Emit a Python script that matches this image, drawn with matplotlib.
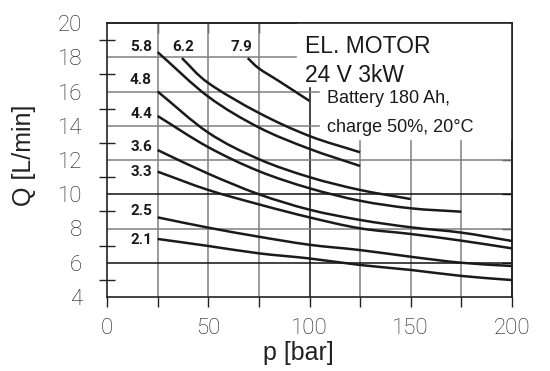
"""Flow vs pressure curves of the 24 V pump motor."""
import matplotlib
matplotlib.use('Agg')
import numpy as np
import matplotlib.pyplot as plt
from matplotlib.patches import Rectangle, PathPatch
from matplotlib.path import Path


# power [kW] written next to every curve
power_labels = ['5.8', '6.2', '7.9', '4.8', '4.4', '3.6', '3.3', '2.5', '2.1']

# pressure [bar] and flow [L/min]
p_58 = [25, 50, 75, 100, 125]
q_58 = [18.3, 15.7, 13.9, 12.65, 11.65]
p_62 = [37, 50, 75, 100, 125]
q_62 = [17.95, 16.5, 14.75, 13.4, 12.45]
p_79 = [69.5, 75, 85, 100]
q_79 = [17.95, 17.35, 16.6, 15.45]
p_48 = [25, 50, 75, 100, 125, 150]
q_48 = [16.0, 13.6, 12.05, 11.0, 10.25, 9.72]
p_44 = [25, 50, 75, 100, 125, 150, 175]
q_44 = [14.57, 12.75, 11.35, 10.35, 9.62, 9.18, 8.98]
p_full = [25, 50, 75, 100, 125, 150, 175, 200]
q_36 = [12.58, 11.2, 10.0, 9.1, 8.5, 8.07, 7.76, 7.27]
q_33 = [11.32, 10.25, 9.41, 8.65, 8.01, 7.68, 7.29, 6.84]
q_25 = [8.65, 8.05, 7.52, 7.05, 6.74, 6.35, 6.0, 5.81]
q_21 = [7.39, 6.98, 6.55, 6.25, 5.87, 5.58, 5.23, 4.99]

x_ticks = [0, 50, 100, 150, 200]
y_ticks = [4, 6, 8, 10, 12, 14, 16, 18, 20]

title_lines = ['EL. MOTOR', '24 V 3kW']
note_lines = ['Battery 180 Ah,', 'charge 50%, 20°C']

curves = [
    (p_58, q_58), (p_62, q_62), (p_79, q_79), (p_48, q_48), (p_44, q_44),
    (p_full, q_36), (p_full, q_33), (p_full, q_25), (p_full, q_21),
]

# where the kW labels sit (right edge, centre)
label_pos = [
    (22.2, 18.6), (43.0, 18.6), (71.6, 18.6), (22.2, 16.65), (22.2, 14.7),
    (22.2, 12.75), (22.2, 11.3), (22.2, 9.0), (22.2, 7.3),
]

TICK_FONT = dict(family=['Roboto', 'DejaVu Sans'], weight='light', size=16,
                 color='#1a1a1a')
TEXT_FAMILY = ['Liberation Sans', 'DejaVu Sans']


def smooth_path(x, y):
    """Bezier path through the points (Catmull-Rom handles)."""
    pts = np.column_stack([x, y]).astype(float)
    ext = np.vstack([2 * pts[0] - pts[1], pts, 2 * pts[-1] - pts[-2]])
    verts = [pts[0]]
    codes = [Path.MOVETO]
    for i in range(1, len(ext) - 2):
        c1 = ext[i] + (ext[i + 1] - ext[i - 1]) / 6
        c2 = ext[i + 1] - (ext[i + 2] - ext[i]) / 6
        verts += [c1, c2, ext[i + 1]]
        codes += [Path.CURVE4] * 3
    return Path(verts, codes)


fig = plt.figure(figsize=(5.5, 3.71), dpi=100)
ax = fig.add_axes([107 / 550, 1 - 297 / 371, 405 / 550, 274 / 371])
ax.set_xlim(0, 200)
ax.set_ylim(4, 20)

# grid, some lines darker like in the print
for x in range(25, 200, 25):
    color = '#111111' if x == 100 else '#808080'
    ax.axvline(x, color=color, lw=1.1, zorder=1)
for y in range(6, 20, 2):
    color = '#111111' if y in (6, 10) else '#808080'
    ax.axhline(y, color=color, lw=1.1, zorder=1)

# blank area behind the motor text
ax.add_patch(Rectangle((94, 16.3), 106, 3.7, color='white', zorder=1.5))
ax.add_patch(Rectangle((105, 13.2), 95, 6.8, color='white', zorder=1.5))

for (p, q), label, (lx, ly) in zip(curves, power_labels, label_pos):
    ax.add_patch(PathPatch(smooth_path(p, q), fill=False, edgecolor='#1a1a1a',
                           lw=1.8, capstyle='butt', zorder=3))
    ax.text(lx, ly, label, ha='right', va='center', fontsize=11,
            fontweight='bold', family=['Roboto', 'DejaVu Sans'],
            color='#1a1a1a', zorder=4)

ax.text(97.8, 18.25, title_lines[0], fontsize=16.5, va='baseline',
        family=TEXT_FAMILY, color='#1a1a1a', zorder=4)
ax.text(97.8, 16.55, title_lines[1], fontsize=16.5, va='baseline',
        family=TEXT_FAMILY, color='#1a1a1a', zorder=4)
ax.text(108.6, 15.33, note_lines[0], fontsize=13, va='baseline',
        family=TEXT_FAMILY, color='#1a1a1a', zorder=4)
ax.text(108.6, 13.64, note_lines[1], fontsize=13, va='baseline',
        family=TEXT_FAMILY, color='#1a1a1a', zorder=4)

# ticks
ax.set_xticks(x_ticks)
ax.set_xticks(range(25, 200, 50), minor=True)
ax.set_yticks(y_ticks)
ax.set_yticks(range(5, 20, 2), minor=True)
ax.set_xticklabels([str(v) for v in x_ticks], fontdict=TICK_FONT)
ax.set_yticklabels([str(v) for v in y_ticks], fontdict=TICK_FONT)
ax.tick_params(axis='x', which='both', direction='out', length=7, width=1,
               pad=8, color='#222222')
ax.tick_params(axis='y', which='major', length=0, pad=18)
ax.tick_params(axis='y', which='minor', direction='inout', length=12,
               width=1, color='#222222')

top = ax.secondary_xaxis('top')
top.set_xticks(range(25, 200, 25))
top.tick_params(direction='in', length=7, width=1, labeltop=False,
                color='#222222')
right = ax.secondary_yaxis('right')
right.set_yticks(range(6, 20, 2))
right.tick_params(direction='in', length=7, width=1, labelright=False,
                  color='#222222')

for spine in list(ax.spines.values()) + [top.spines['top'],
                                         right.spines['right']]:
    spine.set_linewidth(1.2)
    spine.set_color('#222222')

# axis titles placed like in the print
fig.text(298 / 550, 1 - 353 / 371, 'p [bar]', ha='center', va='center',
         fontsize=18, family=TEXT_FAMILY, color='#222222')
fig.text(24 / 550, 1 - 155 / 371, 'Q [L/min]', ha='center', va='center',
         rotation=90, fontsize=18, family=TEXT_FAMILY, color='#222222')

fig.savefig('out.png', dpi=100)
